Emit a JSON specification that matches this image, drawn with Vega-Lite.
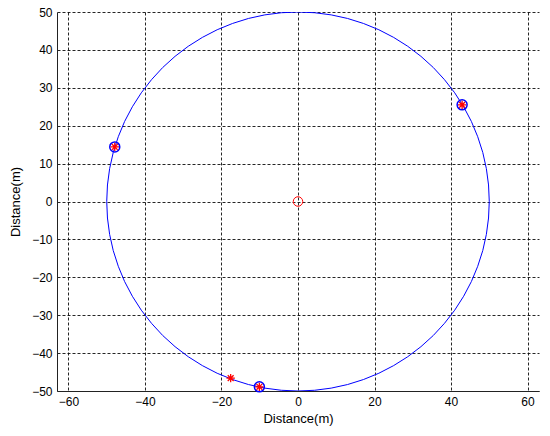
{
  "$schema": "https://vega.github.io/schema/vega-lite/v6.json",
  "autosize": "none",
  "width": 482,
  "height": 379,
  "padding": {"left": 57, "top": 12, "right": 11, "bottom": 45},
  "background": "white",
  "config": {
    "view": {"stroke": null},
    "axis": {
      "labelFont": "Liberation Sans",
      "labelFontSize": 12,
      "labelColor": "black",
      "titleFont": "Liberation Sans",
      "titleFontSize": 13,
      "titleFontWeight": "normal",
      "titleColor": "black",
      "domainColor": "#222222",
      "domainWidth": 1,
      "ticks": false,
      "grid": true,
      "gridColor": "black",
      "gridDash": [3, 2],
      "gridWidth": 1,
      "gridOpacity": 0.85
    }
  },
  "datasets": {
    "circle": [
      {"a": 0, "x": 50, "y": 0}, {"a": 5, "x": 49.81, "y": 4.36}, {"a": 10, "x": 49.24, "y": 8.68}, {"a": 15, "x": 48.3, "y": 12.94},
      {"a": 20, "x": 46.98, "y": 17.1}, {"a": 25, "x": 45.32, "y": 21.13}, {"a": 30, "x": 43.3, "y": 25}, {"a": 35, "x": 40.96, "y": 28.68},
      {"a": 40, "x": 38.3, "y": 32.14}, {"a": 45, "x": 35.36, "y": 35.36}, {"a": 50, "x": 32.14, "y": 38.3}, {"a": 55, "x": 28.68, "y": 40.96},
      {"a": 60, "x": 25, "y": 43.3}, {"a": 65, "x": 21.13, "y": 45.32}, {"a": 70, "x": 17.1, "y": 46.98}, {"a": 75, "x": 12.94, "y": 48.3},
      {"a": 80, "x": 8.68, "y": 49.24}, {"a": 85, "x": 4.36, "y": 49.81}, {"a": 90, "x": 0, "y": 50}, {"a": 95, "x": -4.36, "y": 49.81},
      {"a": 100, "x": -8.68, "y": 49.24}, {"a": 105, "x": -12.94, "y": 48.3}, {"a": 110, "x": -17.1, "y": 46.98}, {"a": 115, "x": -21.13, "y": 45.32},
      {"a": 120, "x": -25, "y": 43.3}, {"a": 125, "x": -28.68, "y": 40.96}, {"a": 130, "x": -32.14, "y": 38.3}, {"a": 135, "x": -35.36, "y": 35.36},
      {"a": 140, "x": -38.3, "y": 32.14}, {"a": 145, "x": -40.96, "y": 28.68}, {"a": 150, "x": -43.3, "y": 25}, {"a": 155, "x": -45.32, "y": 21.13},
      {"a": 160, "x": -46.98, "y": 17.1}, {"a": 165, "x": -48.3, "y": 12.94}, {"a": 170, "x": -49.24, "y": 8.68}, {"a": 175, "x": -49.81, "y": 4.36},
      {"a": 180, "x": -50, "y": 0}, {"a": 185, "x": -49.81, "y": -4.36}, {"a": 190, "x": -49.24, "y": -8.68}, {"a": 195, "x": -48.3, "y": -12.94},
      {"a": 200, "x": -46.98, "y": -17.1}, {"a": 205, "x": -45.32, "y": -21.13}, {"a": 210, "x": -43.3, "y": -25}, {"a": 215, "x": -40.96, "y": -28.68},
      {"a": 220, "x": -38.3, "y": -32.14}, {"a": 225, "x": -35.36, "y": -35.36}, {"a": 230, "x": -32.14, "y": -38.3}, {"a": 235, "x": -28.68, "y": -40.96},
      {"a": 240, "x": -25, "y": -43.3}, {"a": 245, "x": -21.13, "y": -45.32}, {"a": 250, "x": -17.1, "y": -46.98}, {"a": 255, "x": -12.94, "y": -48.3},
      {"a": 260, "x": -8.68, "y": -49.24}, {"a": 265, "x": -4.36, "y": -49.81}, {"a": 270, "x": 0, "y": -50}, {"a": 275, "x": 4.36, "y": -49.81},
      {"a": 280, "x": 8.68, "y": -49.24}, {"a": 285, "x": 12.94, "y": -48.3}, {"a": 290, "x": 17.1, "y": -46.98}, {"a": 295, "x": 21.13, "y": -45.32},
      {"a": 300, "x": 25, "y": -43.3}, {"a": 305, "x": 28.68, "y": -40.96}, {"a": 310, "x": 32.14, "y": -38.3}, {"a": 315, "x": 35.36, "y": -35.36},
      {"a": 320, "x": 38.3, "y": -32.14}, {"a": 325, "x": 40.96, "y": -28.68}, {"a": 330, "x": 43.3, "y": -25}, {"a": 335, "x": 45.32, "y": -21.13},
      {"a": 340, "x": 46.98, "y": -17.1}, {"a": 345, "x": 48.3, "y": -12.94}, {"a": 350, "x": 49.24, "y": -8.68}, {"a": 355, "x": 49.81, "y": -4.36},
      {"a": 360, "x": 50, "y": 0}
    ],
    "markers": [
      {"x": 42.9, "y": 25.5, "type": "anchor"},
      {"x": -47.9, "y": 14.4, "type": "anchor"},
      {"x": -10.1, "y": -48.9, "type": "anchor"},
      {"x": 42.9, "y": 25.5, "type": "star"},
      {"x": -47.9, "y": 14.4, "type": "star"},
      {"x": -10.1, "y": -48.9, "type": "star"},
      {"x": -17.6, "y": -46.6, "type": "star"},
      {"x": 0, "y": 0, "type": "center"}
    ]
  },
  "encoding": {
    "x": {
      "field": "x", "type": "quantitative",
      "scale": {"domain": [-63, 63], "nice": false, "zero": false},
      "axis": {"values": [-60, -40, -20, 0, 20, 40, 60], "title": "Distance(m)", "labelPadding": 5, "titlePadding": 5}
    },
    "y": {
      "field": "y", "type": "quantitative",
      "scale": {"domain": [-50, 50], "nice": false, "zero": false},
      "axis": {"values": [-50, -40, -30, -20, -10, 0, 10, 20, 30, 40, 50], "title": "Distance(m)", "labelPadding": 5, "titlePadding": 9}
    }
  },
  "layer": [
    {
      "data": {"name": "circle"},
      "mark": {"type": "line", "color": "#0000ff", "strokeWidth": 1, "clip": true},
      "encoding": {"order": {"field": "a", "type": "quantitative"}}
    },
    {
      "data": {"name": "markers"},
      "transform": [{"filter": "datum.type === 'anchor'"}],
      "mark": {"type": "point", "shape": "circle", "filled": false, "color": "#0000ff", "strokeWidth": 1.5, "size": 100, "opacity": 1}
    },
    {
      "data": {"name": "markers"},
      "transform": [{"filter": "datum.type === 'star'"}],
      "mark": {"type": "point", "shape": "M-1,0L1,0M0,-1L0,1M-0.7,-0.7L0.7,0.7M-0.7,0.7L0.7,-0.7", "filled": false, "color": "#ff0000", "strokeWidth": 1.3, "size": 70, "opacity": 1}
    },
    {
      "data": {"name": "markers"},
      "transform": [{"filter": "datum.type === 'center'"}],
      "mark": {"type": "point", "shape": "circle", "filled": false, "color": "#ff0000", "strokeWidth": 1, "size": 90, "opacity": 1}
    }
  ]
}
